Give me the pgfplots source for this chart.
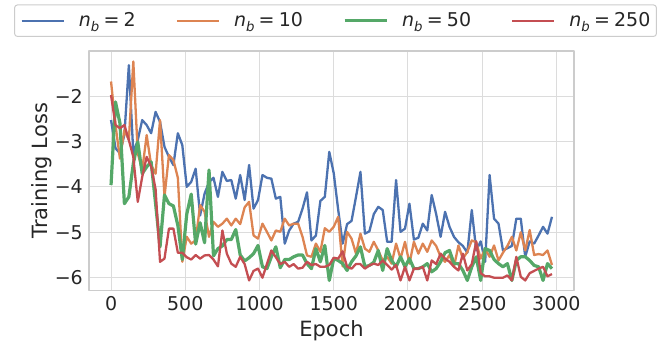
\documentclass[border=0pt]{standalone}
\usepackage{fontspec}
\setmainfont{DejaVu Sans}
\usepackage{pgfplots}
\pgfplotsset{compat=1.18}
\usepackage{pgfplotstable}
\definecolor{sbblue}{HTML}{4C72B0}
\definecolor{sborange}{HTML}{DD8452}
\definecolor{sbgreen}{HTML}{55A868}
\definecolor{sbred}{HTML}{C44E52}
\definecolor{txt}{HTML}{262626}
\definecolor{gridc}{HTML}{DCDCDC}
\definecolor{framec}{HTML}{CCCCCC}
\newcommand{\nb}[1]{\textit{n}\raisebox{-0.25em}{\fontsize{13.3}{13.3}\selectfont\textit{b}}\hspace{0.22em}=\hspace{0.22em}#1}
\pgfplotstableread{
epoch b o g r
0 -2.53 -1.68 -3.96 -1.98
30 -3.15 -2.64 -2.13 -2.64
60 -3.26 -3.38 -2.60 -2.71
90 -2.85 -2.75 -4.37 -2.64
120 -1.32 -2.97 -4.22 -2.97
150 -3.26 -1.24 -3.49 -3.34
180 -2.97 -3.26 -3.01 -4.33
210 -2.53 -3.63 -3.71 -3.78
240 -2.64 -2.86 -3.56 -3.34
270 -2.82 -3.52 -3.45 -3.55
300 -2.35 -3.71 -4.37 -4.05
330 -2.57 -2.53 -5.32 -5.65
360 -3.12 -4.22 -4.18 -5.58
390 -3.34 -3.30 -4.37 -4.92
420 -3.52 -3.41 -4.42 -4.92
450 -2.82 -3.80 -4.85 -5.45
480 -3.08 -5.65 -5.60 -5.45
510 -4.00 -5.10 -4.60 -5.55
540 -3.89 -5.25 -4.16 -5.60
570 -3.60 -5.18 -5.26 -5.50
600 -4.63 -4.40 -4.79 -5.58
630 -4.15 -4.55 -5.23 -5.51
660 -3.90 -5.10 -3.63 -5.50
690 -3.80 -4.77 -5.52 -5.60
720 -4.22 -4.88 -5.36 -5.75
750 -3.67 -4.81 -5.30 -4.96
780 -3.87 -4.70 -5.16 -5.47
810 -3.85 -4.85 -5.16 -5.69
840 -4.26 -4.70 -4.94 -5.76
870 -3.74 -4.82 -5.50 -5.54
900 -4.29 -4.45 -5.63 -5.70
930 -3.52 -4.33 -5.56 -6.06
960 -4.48 -5.07 -5.47 -5.85
990 -4.29 -5.14 -5.29 -5.80
1020 -3.74 -4.81 -5.76 -6.00
1050 -3.80 -4.99 -5.80 -5.70
1080 -3.82 -5.18 -5.54 -5.40
1110 -4.26 -4.96 -5.32 -5.55
1140 -4.22 -4.99 -5.78 -5.70
1170 -5.25 -4.70 -5.60 -5.65
1200 -4.96 -4.85 -5.60 -5.76
1230 -4.81 -4.81 -5.54 -5.70
1260 -4.77 -4.81 -5.50 -5.80
1290 -4.48 -5.10 -5.50 -5.78
1320 -4.12 -5.51 -5.69 -5.65
1350 -5.18 -5.54 -5.80 -5.72
1380 -5.07 -5.25 -5.36 -5.70
1410 -4.31 -5.43 -5.65 -5.76
1440 -4.22 -4.91 -5.29 -5.76
1470 -3.23 -4.99 -6.06 -5.72
1500 -3.70 -4.88 -5.58 -5.56
1530 -4.50 -4.66 -5.62 -5.58
1560 -5.25 -5.75 -5.69 -5.42
1590 -4.82 -4.99 -5.84 -5.76
1620 -4.75 -5.14 -5.65 -5.80
1650 -4.22 -5.47 -5.52 -5.70
1680 -3.67 -5.03 -5.32 -5.70
1710 -5.03 -5.36 -5.76 -5.80
1740 -4.98 -5.43 -5.73 -5.73
1770 -4.60 -5.21 -5.66 -5.69
1800 -4.44 -5.40 -5.40 -5.72
1830 -4.51 -5.62 -5.84 -5.62
1860 -5.21 -5.54 -5.36 -5.72
1890 -5.21 -5.69 -5.62 -5.82
1920 -3.85 -5.25 -5.76 -5.72
1950 -4.99 -5.58 -5.54 -6.06
1980 -4.92 -5.21 -5.76 -5.76
2010 -4.37 -5.69 -5.58 -6.06
2040 -5.16 -5.21 -5.80 -5.80
2070 -5.12 -5.47 -5.80 -5.80
2100 -4.81 -5.25 -5.76 -5.76
2130 -4.96 -5.43 -5.69 -6.06
2160 -4.18 -5.18 -5.87 -5.62
2190 -4.60 -5.30 -5.80 -5.70
2220 -5.10 -5.54 -5.65 -5.47
2250 -4.55 -5.65 -5.45 -5.58
2280 -4.88 -5.50 -5.40 -5.65
2310 -5.10 -5.76 -5.69 -5.76
2340 -5.22 -5.29 -5.69 -5.84
2370 -5.30 -5.58 -5.84 -5.47
2400 -5.45 -5.43 -6.06 -5.84
2430 -4.51 -5.18 -5.76 -5.70
2460 -5.40 -5.22 -5.54 -5.20
2490 -5.20 -5.58 -6.06 -5.90
2520 -5.65 -5.36 -5.36 -5.97
2550 -3.74 -5.54 -5.40 -5.97
2580 -4.70 -5.29 -5.60 -6.00
2610 -4.81 -5.62 -5.69 -6.00
2640 -5.40 -5.45 -5.76 -6.00
2670 -5.35 -5.30 -5.69 -5.95
2700 -5.30 -5.10 -6.06 -6.06
2730 -4.70 -5.40 -5.62 -5.54
2760 -4.70 -5.00 -5.54 -5.98
2790 -5.54 -5.40 -5.54 -6.06
2820 -5.20 -4.95 -5.62 -5.90
2850 -5.25 -5.50 -5.73 -5.85
2880 -5.07 -5.48 -5.76 -5.80
2910 -4.88 -5.50 -6.06 -5.76
2940 -5.03 -5.40 -5.69 -5.97
2970 -4.66 -5.72 -5.80 -5.92
}\data
\begin{document}
\begin{tikzpicture}
\useasboundingbox (0,0) rectangle (670pt,348pt);
\begin{axis}[
  at={(89pt,57.3pt)}, anchor=south west,
  width=485pt, height=239.7pt, scale only axis,
  xmin=-148.5, xmax=3118.5, ymin=-6.286, ymax=-1.009,
  xtick={0,500,1000,1500,2000,2500,3000},
  xticklabels={0,500,1000,1500,2000,2500,3000},
  ytick={-6,-5,-4,-3,-2},
  yticklabels={−6,−5,−4,−3,−2},
  major tick length=0pt,
  grid=major, grid style={color=gridc, line width=1pt},
  axis line style={color=framec, line width=1.2pt},
  tick label style={font=\fontsize{19}{19}\selectfont, text=txt},
  xticklabel style={yshift=-2.5pt},
  yticklabel style={xshift=-2.7pt},
  xlabel={Epoch}, ylabel={Training Loss},
  xlabel style={at={(axis description cs:0.5,-0.122)}, anchor=north, inner sep=0pt, font=\fontsize{21}{21}\selectfont, text=txt},
  ylabel style={at={(axis description cs:-0.076,0.5)}, anchor=south, inner sep=0pt, font=\fontsize{21}{21}\selectfont, text=txt},
  legend style={at={(axis description cs:0.5,1)}, anchor=south, yshift=14pt, xshift=4pt,
    draw=framec, line width=1pt, rounded corners=3pt, fill=white,
    inner xsep=6pt, inner ysep=7pt,
    font=\fontsize{19}{19}\selectfont, text=txt,
    nodes={inner xsep=0pt, inner ysep=1pt},
    /tikz/every odd column/.append style={column sep=14pt},
    /tikz/every even column/.append style={column sep=40pt}},
  legend columns=4,
  legend image code/.code={\draw[#1] (0pt,0pt) -- (42pt,0pt);},
  line join=round,
]
\addplot[sbblue, line width=2.3pt] table[x=epoch, y=b] {\data};
\addlegendentry{\nb{2}}
\addplot[sborange, line width=2.3pt] table[x=epoch, y=o] {\data};
\addlegendentry{\nb{10}}
\addplot[sbgreen, line width=3.2pt] table[x=epoch, y=g] {\data};
\addlegendentry{\nb{50}}
\addplot[sbred, line width=2.3pt] table[x=epoch, y=r] {\data};
\addlegendentry{\nb{250}}
\end{axis}
\end{tikzpicture}
\end{document}
